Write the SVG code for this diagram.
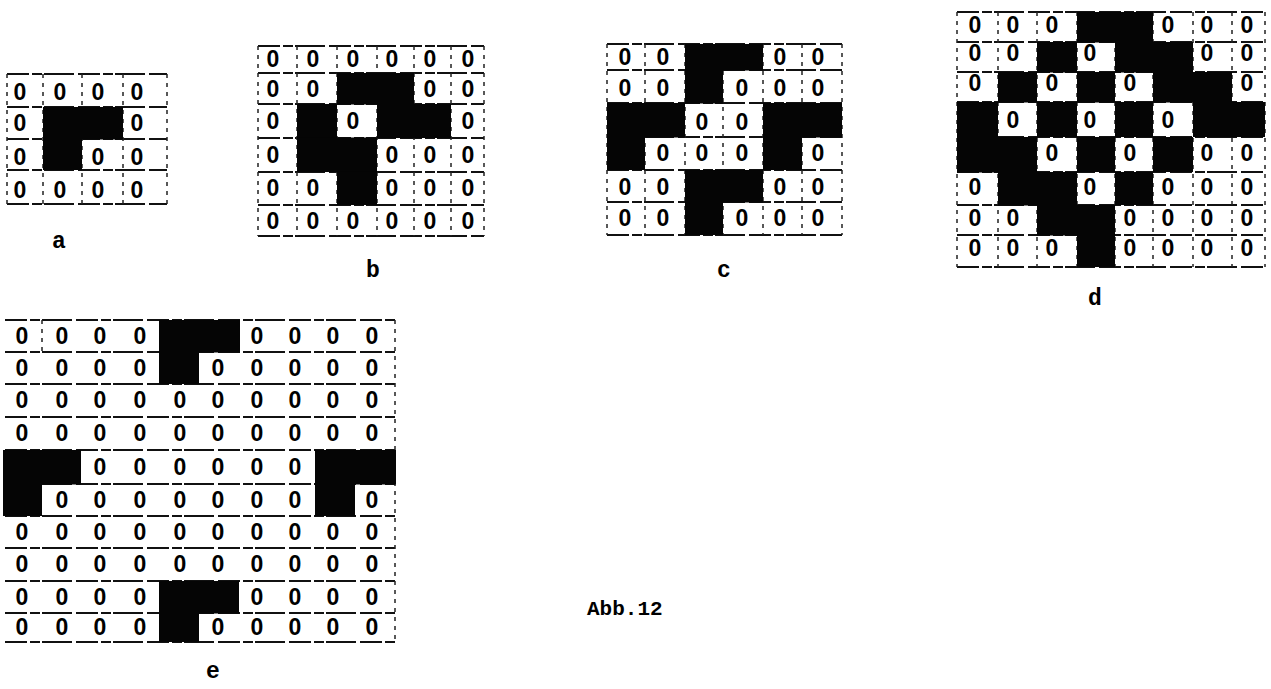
<svg xmlns="http://www.w3.org/2000/svg" width="1271" height="689" viewBox="0 0 1271 689">
<style>
.bg{fill:#fff}
.h{stroke:#111;stroke-width:2;stroke-dasharray:22 3 10 2 30 4;fill:none}
.v{stroke:#222;stroke-width:1.5;stroke-dasharray:4 5;fill:none}
.k{fill:#050505}
.z{font-family:"Liberation Sans",Arial,sans-serif;font-weight:bold;font-size:23px;text-anchor:middle;fill:#000}
.lbl{font-family:"Liberation Mono","Courier New",monospace;font-weight:bold;font-size:23px;text-anchor:middle;fill:#000}
.cap{font-family:"Liberation Mono","Courier New",monospace;font-weight:bold;font-size:21px;fill:#000}
</style>
<rect class="bg" x="0" y="0" width="1271" height="689"/>

<g id="panel-a">
<path class="h" d="M7 74H167M7 107H167M7 139H167M7 170H167M7 204H167"/>
<path class="v" d="M7 74V204M43 74V204M82 74V204M123 74V204M167 74V204"/>
<rect class="k" x="43" y="107" width="80" height="32.5"/>
<rect class="k" x="43" y="138" width="39" height="32"/>
<text class="z" x="20" y="100">0</text><text class="z" x="60" y="100">0</text><text class="z" x="98" y="100">0</text><text class="z" x="137" y="100">0</text>
<text class="z" x="20" y="131">0</text><text class="z" x="137" y="131">0</text>
<text class="z" x="20" y="165">0</text><text class="z" x="98" y="165">0</text><text class="z" x="137" y="165">0</text>
<text class="z" x="20" y="198">0</text><text class="z" x="60" y="198">0</text><text class="z" x="98" y="198">0</text><text class="z" x="137" y="198">0</text>
<text class="lbl" x="59" y="248">a</text>
</g>

<g id="panel-b">
<path class="h" d="M258 46H484M258 73H484M258 104H484M258 138H484M258 172H484M258 205H484M258 236H484"/>
<path class="v" d="M258 46V236M297 46V236M337 46V236M377 46V236M414 46V236M451 46V236M484 46V236"/>
<rect class="k" x="337" y="73" width="77" height="31.5"/>
<rect class="k" x="297" y="104" width="40" height="34.5"/>
<rect class="k" x="377" y="104" width="74" height="34"/>
<rect class="k" x="297" y="137.5" width="80" height="34.5"/>
<rect class="k" x="337" y="171.5" width="40" height="33.5"/>
<text class="z" x="273" y="67">0</text><text class="z" x="313" y="67">0</text><text class="z" x="353" y="67">0</text><text class="z" x="392" y="67">0</text><text class="z" x="430" y="67">0</text><text class="z" x="468" y="67">0</text>
<text class="z" x="273" y="97">0</text><text class="z" x="313" y="97">0</text><text class="z" x="430" y="97">0</text><text class="z" x="468" y="97">0</text>
<text class="z" x="273" y="129">0</text><text class="z" x="353" y="129">0</text><text class="z" x="468" y="129">0</text>
<text class="z" x="273" y="163">0</text><text class="z" x="392" y="163">0</text><text class="z" x="430" y="163">0</text><text class="z" x="468" y="163">0</text>
<text class="z" x="273" y="196">0</text><text class="z" x="313" y="196">0</text><text class="z" x="392" y="196">0</text><text class="z" x="430" y="196">0</text><text class="z" x="468" y="196">0</text>
<text class="z" x="273" y="229">0</text><text class="z" x="313" y="229">0</text><text class="z" x="353" y="229">0</text><text class="z" x="392" y="229">0</text><text class="z" x="430" y="229">0</text><text class="z" x="468" y="229">0</text>
<text class="lbl" x="373" y="277">b</text>
</g>

<g id="panel-c">
<path class="h" d="M607 44H842M607 70H842M607 103H842M607 137H842M607 170H842M607 202H842M607 235H842"/>
<path class="v" d="M607 44V235M645 44V235M685 44V235M723 44V235M763 44V235M802 44V235M842 44V235"/>
<rect class="k" x="685" y="44" width="78" height="26.5"/>
<rect class="k" x="685" y="70" width="38" height="33.5"/>
<rect class="k" x="607" y="103" width="78" height="34.5"/>
<rect class="k" x="763" y="103" width="79" height="34.5"/>
<rect class="k" x="607" y="137" width="38" height="33"/>
<rect class="k" x="763" y="137" width="39" height="33"/>
<rect class="k" x="685" y="170" width="78" height="32.5"/>
<rect class="k" x="685" y="202" width="38" height="33"/>
<text class="z" x="625" y="65">0</text><text class="z" x="663" y="65">0</text><text class="z" x="780" y="65">0</text><text class="z" x="818" y="65">0</text>
<text class="z" x="625" y="96">0</text><text class="z" x="663" y="96">0</text><text class="z" x="742" y="96">0</text><text class="z" x="780" y="96">0</text><text class="z" x="818" y="96">0</text>
<text class="z" x="702" y="130">0</text><text class="z" x="742" y="130">0</text>
<text class="z" x="663" y="161">0</text><text class="z" x="702" y="161">0</text><text class="z" x="742" y="161">0</text><text class="z" x="818" y="161">0</text>
<text class="z" x="625" y="195">0</text><text class="z" x="663" y="195">0</text><text class="z" x="780" y="195">0</text><text class="z" x="818" y="195">0</text>
<text class="z" x="625" y="226">0</text><text class="z" x="663" y="226">0</text><text class="z" x="742" y="226">0</text><text class="z" x="780" y="226">0</text><text class="z" x="818" y="226">0</text>
<text class="lbl" x="724" y="277">c</text>
</g>

<g id="panel-d">
<path class="h" d="M957 12H1265M957 42H1265M957 72H1265M957 102H1265M957 137H1265M957 172H1265M957 205H1265M957 235H1265M957 267H1265"/>
<path class="v" d="M957 12V267M998 12V267M1037 12V267M1077 12V267M1115 12V267M1153 12V267M1193 12V267M1232 12V267M1265 12V267"/>
<rect class="k" x="1077" y="12" width="76" height="30.5"/>
<rect class="k" x="1037" y="42" width="40" height="30.5"/>
<rect class="k" x="1115" y="42" width="78" height="30.5"/>
<rect class="k" x="998" y="72" width="39" height="30.5"/>
<rect class="k" x="1077" y="72" width="38" height="30.5"/>
<rect class="k" x="1153" y="72" width="79" height="30.5"/>
<rect class="k" x="957" y="102" width="41" height="35.5"/>
<rect class="k" x="1037" y="102" width="40" height="35"/>
<rect class="k" x="1115" y="102" width="38" height="35"/>
<rect class="k" x="1193" y="102" width="72" height="35"/>
<rect class="k" x="957" y="137" width="80" height="35.5"/>
<rect class="k" x="1077" y="137" width="38" height="35"/>
<rect class="k" x="1153" y="137" width="40" height="35"/>
<rect class="k" x="998" y="172" width="79" height="33.5"/>
<rect class="k" x="1115" y="172" width="38" height="33"/>
<rect class="k" x="1037" y="205" width="78" height="30.5"/>
<rect class="k" x="1077" y="235" width="38" height="32"/>
<text class="z" x="975" y="33">0</text><text class="z" x="1013" y="33">0</text><text class="z" x="1052" y="33">0</text><text class="z" x="1168" y="33">0</text><text class="z" x="1207" y="33">0</text><text class="z" x="1247" y="33">0</text>
<text class="z" x="975" y="61">0</text><text class="z" x="1013" y="61">0</text><text class="z" x="1090" y="61">0</text><text class="z" x="1207" y="61">0</text><text class="z" x="1247" y="61">0</text>
<text class="z" x="975" y="91">0</text><text class="z" x="1052" y="91">0</text><text class="z" x="1130" y="91">0</text><text class="z" x="1247" y="91">0</text>
<text class="z" x="1013" y="128">0</text><text class="z" x="1090" y="128">0</text><text class="z" x="1168" y="128">0</text>
<text class="z" x="1052" y="161">0</text><text class="z" x="1130" y="161">0</text><text class="z" x="1207" y="161">0</text><text class="z" x="1247" y="161">0</text>
<text class="z" x="975" y="195">0</text><text class="z" x="1090" y="195">0</text><text class="z" x="1168" y="195">0</text><text class="z" x="1207" y="195">0</text><text class="z" x="1247" y="195">0</text>
<text class="z" x="975" y="226">0</text><text class="z" x="1013" y="226">0</text><text class="z" x="1130" y="226">0</text><text class="z" x="1168" y="226">0</text><text class="z" x="1207" y="226">0</text><text class="z" x="1247" y="226">0</text>
<text class="z" x="975" y="256">0</text><text class="z" x="1013" y="256">0</text><text class="z" x="1052" y="256">0</text><text class="z" x="1130" y="256">0</text><text class="z" x="1168" y="256">0</text><text class="z" x="1207" y="256">0</text><text class="z" x="1247" y="256">0</text>
<text class="lbl" x="1095" y="305">d</text>
</g>

<g id="panel-e">
<path class="h" d="M5 320H395M5 352H395M5 384H395M5 417H395M5 450H395M5 484H395M5 516H395M5 548H395M5 581H395M5 613H395M5 642H395"/>
<path class="v" d="M42 320V352M395 320V642"/>
<rect class="k" x="159" y="320" width="81" height="32.5"/>
<rect class="k" x="159" y="352" width="40" height="32"/>
<rect class="k" x="3" y="450" width="78" height="34.5"/>
<rect class="k" x="3" y="484" width="39" height="32"/>
<rect class="k" x="315" y="450" width="81" height="34.5"/>
<rect class="k" x="315" y="484" width="40" height="32"/>
<rect class="k" x="159" y="581" width="80" height="32.5"/>
<rect class="k" x="159" y="613" width="40" height="29"/>
<text class="z" x="22" y="344">0</text><text class="z" x="62" y="344">0</text><text class="z" x="100" y="344">0</text><text class="z" x="140" y="344">0</text><text class="z" x="257" y="344">0</text><text class="z" x="295" y="344">0</text><text class="z" x="333" y="344">0</text><text class="z" x="372" y="344">0</text>
<text class="z" x="22" y="376">0</text><text class="z" x="62" y="376">0</text><text class="z" x="100" y="376">0</text><text class="z" x="140" y="376">0</text><text class="z" x="218" y="376">0</text><text class="z" x="257" y="376">0</text><text class="z" x="295" y="376">0</text><text class="z" x="333" y="376">0</text><text class="z" x="372" y="376">0</text>
<text class="z" x="22" y="408">0</text><text class="z" x="62" y="408">0</text><text class="z" x="100" y="408">0</text><text class="z" x="140" y="408">0</text><text class="z" x="180" y="408">0</text><text class="z" x="218" y="408">0</text><text class="z" x="257" y="408">0</text><text class="z" x="295" y="408">0</text><text class="z" x="333" y="408">0</text><text class="z" x="372" y="408">0</text>
<text class="z" x="22" y="441">0</text><text class="z" x="62" y="441">0</text><text class="z" x="100" y="441">0</text><text class="z" x="140" y="441">0</text><text class="z" x="180" y="441">0</text><text class="z" x="218" y="441">0</text><text class="z" x="257" y="441">0</text><text class="z" x="295" y="441">0</text><text class="z" x="333" y="441">0</text><text class="z" x="372" y="441">0</text>
<text class="z" x="100" y="475">0</text><text class="z" x="140" y="475">0</text><text class="z" x="180" y="475">0</text><text class="z" x="218" y="475">0</text><text class="z" x="257" y="475">0</text><text class="z" x="295" y="475">0</text>
<text class="z" x="62" y="508">0</text><text class="z" x="100" y="508">0</text><text class="z" x="140" y="508">0</text><text class="z" x="180" y="508">0</text><text class="z" x="218" y="508">0</text><text class="z" x="257" y="508">0</text><text class="z" x="295" y="508">0</text><text class="z" x="372" y="508">0</text>
<text class="z" x="22" y="540">0</text><text class="z" x="62" y="540">0</text><text class="z" x="100" y="540">0</text><text class="z" x="140" y="540">0</text><text class="z" x="180" y="540">0</text><text class="z" x="218" y="540">0</text><text class="z" x="257" y="540">0</text><text class="z" x="295" y="540">0</text><text class="z" x="333" y="540">0</text><text class="z" x="372" y="540">0</text>
<text class="z" x="22" y="572">0</text><text class="z" x="62" y="572">0</text><text class="z" x="100" y="572">0</text><text class="z" x="140" y="572">0</text><text class="z" x="180" y="572">0</text><text class="z" x="218" y="572">0</text><text class="z" x="257" y="572">0</text><text class="z" x="295" y="572">0</text><text class="z" x="333" y="572">0</text><text class="z" x="372" y="572">0</text>
<text class="z" x="22" y="605">0</text><text class="z" x="62" y="605">0</text><text class="z" x="100" y="605">0</text><text class="z" x="140" y="605">0</text><text class="z" x="257" y="605">0</text><text class="z" x="295" y="605">0</text><text class="z" x="333" y="605">0</text><text class="z" x="372" y="605">0</text>
<text class="z" x="22" y="635">0</text><text class="z" x="62" y="635">0</text><text class="z" x="100" y="635">0</text><text class="z" x="140" y="635">0</text><text class="z" x="218" y="635">0</text><text class="z" x="257" y="635">0</text><text class="z" x="295" y="635">0</text><text class="z" x="333" y="635">0</text><text class="z" x="372" y="635">0</text>
<text class="lbl" x="213" y="678">e</text>
</g>

<g id="caption">
<text class="cap" x="587" y="615">Abb.12</text>
</g>
</svg>
